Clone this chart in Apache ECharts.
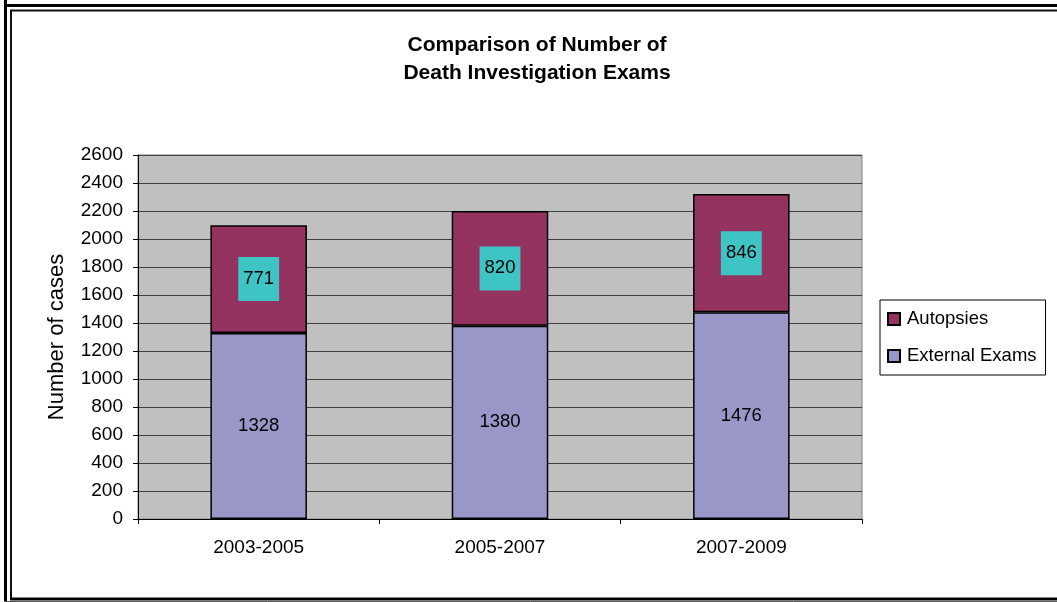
<!DOCTYPE html>
<html>
<head>
<meta charset="utf-8">
<script src="https://cdn.jsdelivr.net/npm/echarts@6/dist/echarts.min.js"></script>
<style>html,body{margin:0;padding:0;background:#fff}#c{width:1057px;height:602px}</style>
</head>
<body>
<div id="c"></div>
<script>
const categories = ['2003-2005', '2005-2007', '2007-2009'];
const externalExams = [1328, 1380, 1476];
const autopsies = [771, 820, 846];
const yTicks = { min: 0, max: 2600, interval: 200 };
const titleLines = ['Comparison of Number of', 'Death Investigation Exams'];

const FONT = '"Liberation Sans", Arial, sans-serif';
const chart = echarts.init(document.getElementById('c'), null, { renderer: 'canvas' });
chart.setOption({
  animation: false,
  backgroundColor: '#ffffff',
  textStyle: { fontFamily: FONT },
  title: {
    text: titleLines.join('\n'),
    left: 537, top: 31, padding: 0, textAlign: 'center',
    textStyle: { fontFamily: FONT, fontSize: 21, fontWeight: 'bold', color: '#000', lineHeight: 28 }
  },
  legend: {
    data: ['Autopsies', 'External Exams'],
    orient: 'vertical',
    left: 880, top: 300,
    padding: [9, 9, 9, 7],
    itemGap: 17,
    itemWidth: 12, itemHeight: 12,
    icon: 'rect',
    borderColor: '#000', borderWidth: 1,
    textStyle: { fontFamily: FONT, fontSize: 18.5, color: '#000', lineHeight: 20, padding: [0, 0, 0, 2] }
  },
  grid: {
    left: 138, right: 195, top: 155, bottom: 83,
    show: true, backgroundColor: '#C0C0C0', borderColor: '#808080', borderWidth: 1
  },
  xAxis: {
    type: 'category', data: categories,
    axisLine: { lineStyle: { color: '#000', width: 1 } },
    axisTick: { show: true, length: 5, lineStyle: { color: '#000' } },
    axisLabel: { color: '#000', fontSize: 19, margin: 19, fontFamily: FONT }
  },
  yAxis: {
    type: 'value', min: yTicks.min, max: yTicks.max, interval: yTicks.interval,
    name: 'Number of cases', nameLocation: 'middle', nameGap: 70,
    nameTextStyle: { color: '#000', fontSize: 22, fontFamily: FONT },
    axisLine: { show: true, lineStyle: { color: '#000', width: 1 } },
    axisTick: { show: true, length: 5, lineStyle: { color: '#000' } },
    axisLabel: { color: '#000', fontSize: 19, margin: 15, fontFamily: FONT, formatter: v => String(v) },
    splitLine: { show: true, lineStyle: { color: '#404040', width: 1 } }
  },
  series: [
    {
      name: 'External Exams', type: 'bar', stack: 'a', data: externalExams, barWidth: '40%',
      itemStyle: { color: '#9996C8', borderColor: '#000', borderWidth: 1.5 },
      label: { show: true, position: 'inside', color: '#000', fontSize: 18.5, fontFamily: FONT }
    },
    {
      name: 'Autopsies', type: 'bar', stack: 'a', data: autopsies, barWidth: '40%',
      itemStyle: { color: '#943360', borderColor: '#000', borderWidth: 1.5 },
      label: { show: true, position: 'inside', color: '#000', fontSize: 18.5, fontFamily: FONT,
        backgroundColor: '#3EC4C4', padding: [12, 5, 12, 5], lineHeight: 20 }
    }
  ],
  graphic: [
    { type: 'line', shape: { x1: 5.5, y1: 0, x2: 5.5, y2: 602 }, style: { stroke: '#000', lineWidth: 3 } },
    { type: 'line', shape: { x1: 4, y1: 5.5, x2: 1057, y2: 5.5 }, style: { stroke: '#000', lineWidth: 3 } },
    { type: 'line', shape: { x1: 11, y1: 10, x2: 11, y2: 598 }, style: { stroke: '#111', lineWidth: 2 } },
    { type: 'line', shape: { x1: 10, y1: 10.5, x2: 1057, y2: 10.5 }, style: { stroke: '#111', lineWidth: 2 } },
    { type: 'line', shape: { x1: 10, y1: 599, x2: 1057, y2: 599 }, style: { stroke: '#000', lineWidth: 3 } },
    { type: 'line', shape: { x1: 4, y1: 601.5, x2: 1057, y2: 601.5 }, style: { stroke: '#555', lineWidth: 1 } }
  ]
});
</script>
</body>
</html>
